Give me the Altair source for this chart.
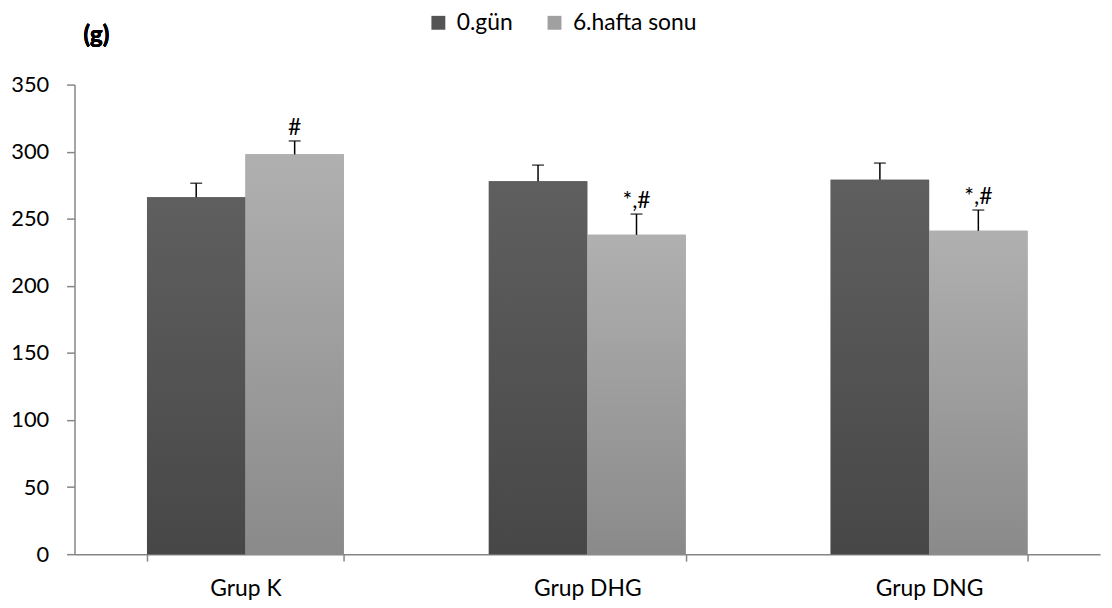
import altair as alt
import pandas as pd

groups = ["Grup K", "Grup DHG", "Grup DNG"]
series = ["0.gün", "6.hafta sonu"]
vals_day0 = [266, 278, 279]
vals_week6 = [298, 238, 241]
err_day0 = [10.5, 12, 12.5]
err_week6 = [10, 15.5, 15.5]
marks_day0 = ["", "", ""]
marks_week6 = ["#", "*,#", "*,#"]

rows = []
for i, g in enumerate(groups):
    rows.append({"grup": g, "seri": series[0], "deger": vals_day0[i],
                 "ust": vals_day0[i] + err_day0[i], "isaret": marks_day0[i]})
    rows.append({"grup": g, "seri": series[1], "deger": vals_week6[i],
                 "ust": vals_week6[i] + err_week6[i], "isaret": marks_week6[i]})
df = pd.DataFrame(rows)

FONT = "Lato"
AX = "#868686"

x_enc = alt.X("grup:N", sort=groups, title=None,
              scale=alt.Scale(paddingInner=0.424, paddingOuter=0.212),
              axis=alt.Axis(labelAngle=0, domainColor=AX, tickColor=AX, tickSize=7,
                            tickBand="extent", labelFontSize=23, labelFont=FONT,
                            labelColor="black", labelPadding=17, domainWidth=1.5,
                            tickWidth=1.5))
xo_enc = alt.XOffset("seri:N", sort=series,
                     scale=alt.Scale(domain=series, paddingInner=0, paddingOuter=0))
y_scale = alt.Scale(domain=[0, 350], nice=False)
y_enc = alt.Y("deger:Q", scale=y_scale, title=None,
              axis=alt.Axis(values=list(range(0, 351, 50)), grid=False, domainColor=AX,
                            tickColor=AX, tickSize=8, labelFontSize=22, labelFont=FONT,
                            labelColor="black", labelPadding=18, domainWidth=1.5,
                            tickWidth=1.5))

base = alt.Chart(df)

legend_bars = base.mark_bar().encode(
    x=x_enc, xOffset=xo_enc, y=y_enc,
    color=alt.Color("seri:N", sort=series,
                    scale=alt.Scale(domain=series, range=["#545454", "#a0a0a0"]),
                    legend=alt.Legend(title=None, orient="none", direction="horizontal",
                                      legendX=355, legendY=-74, symbolType="square",
                                      symbolSize=196, symbolStrokeWidth=0,
                                      labelFontSize=23, labelFont=FONT, labelColor="black",
                                      labelOffset=7, columnPadding=30, labelLimit=300))
)

grad_dark = alt.Gradient(gradient="linear", x1=0, x2=0, y1=0, y2=1,
                         stops=[alt.GradientStop(color="#5f5f5f", offset=0),
                                alt.GradientStop(color="#474747", offset=1)])
grad_light = alt.Gradient(gradient="linear", x1=0, x2=0, y1=0, y2=1,
                          stops=[alt.GradientStop(color="#b0b0b0", offset=0),
                                 alt.GradientStop(color="#8a8a8a", offset=1)])

bars0 = base.mark_bar(color=grad_dark).encode(
    x=x_enc, xOffset=xo_enc, y=y_enc
).transform_filter(alt.datum.seri == series[0])
bars1 = base.mark_bar(color=grad_light).encode(
    x=x_enc, xOffset=xo_enc, y=y_enc
).transform_filter(alt.datum.seri == series[1])

err_rule = base.mark_rule(color="black", strokeWidth=1.5).encode(
    x=x_enc, xOffset=xo_enc, y=alt.Y("deger:Q", scale=y_scale), y2="ust:Q"
)
err_cap = base.mark_tick(color="black", orient="horizontal", size=12, thickness=1.5).encode(
    x=x_enc, xOffset=xo_enc, y=alt.Y("ust:Q", scale=y_scale)
)
labels = base.mark_text(baseline="alphabetic", dy=-6, fontSize=23, font=FONT,
                        color="black").encode(
    x=x_enc, xOffset=xo_enc, y=alt.Y("ust:Q", scale=y_scale), text="isaret:N"
)
unit = base.mark_text(fontSize=24, font=FONT, fontWeight="bold", color="black",
                      baseline="middle", align="center").encode(
    x=alt.value(22), y=alt.value(-49), text=alt.value("(g)")
)

chart = alt.layer(legend_bars, bars0, bars1, err_rule, err_cap, labels, unit).properties(
    width=1033, height=473,
    autosize=alt.AutoSizeParams(type="none"),
    padding={"left": 67, "top": 75, "right": 4, "bottom": 44},
    background="white",
).configure_view(stroke=None)

chart.save("out.html", embed_options={"renderer": "svg", "actions": False})
